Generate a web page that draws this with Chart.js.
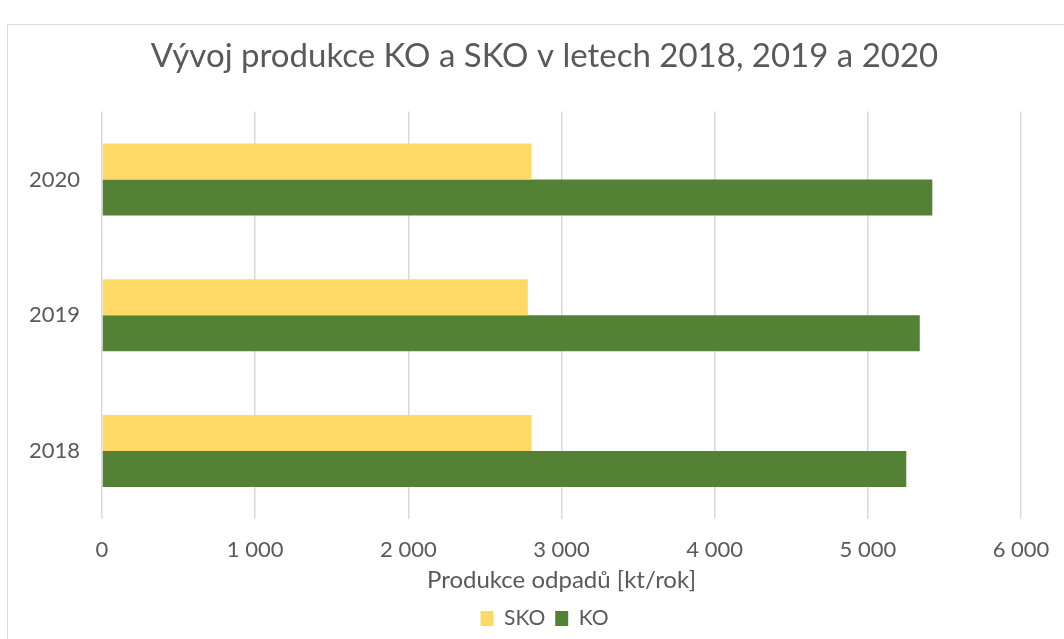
<!DOCTYPE html>
<html>
<head>
<meta charset="utf-8">
<script src="https://cdn.jsdelivr.net/npm/chart.js@4"></script>
<style>
  html, body { margin: 0; padding: 0; background: #fff; }
  #wrap { width: 1064px; height: 639px; }
</style>
</head>
<body>
<div id="wrap"><canvas id="barChart" width="1064" height="639"></canvas></div>
<script>
const years = ['2018', '2019', '2020'];
const skoValues = [2805, 2780, 2803];
const koValues = [5251, 5339, 5421];
const xTicks = [0, 1000, 2000, 3000, 4000, 5000, 6000];

const textColor = '#595959';
const fontFamily = 'Lato, "Open Sans", sans-serif';

// thin grey frame around the chart like the office export
const framePlugin = {
    id: 'frame',
    beforeDraw(chart) {
        const ctx = chart.ctx;
        ctx.save();
        ctx.fillStyle = '#fff';
        ctx.fillRect(0, 0, chart.width, chart.height);
        ctx.strokeStyle = '#d9d9d9';
        ctx.lineWidth = 1;
        ctx.strokeRect(7.5, 24.5, chart.width + 20, chart.height + 20);
        ctx.restore();
    },
    // title and legend sit a bit right of the plot centre in the original
    afterLayout(chart) {
        const shift = 30;
        if (chart.titleBlock) {
            chart.titleBlock.left += shift;
            chart.titleBlock.right += shift;
        }
        if (chart.legend) {
            chart.legend.left += shift;
            chart.legend.right += shift;
        }
    }
};

const ctx = document.getElementById('barChart').getContext('2d');
new Chart(ctx, {
    type: 'bar',
    data: {
        labels: years,
        datasets: [{
            label: 'SKO',
            data: skoValues,
            backgroundColor: '#FFD966',
            barPercentage: 1.0,
            categoryPercentage: 0.53
        }, {
            label: 'KO',
            data: koValues,
            backgroundColor: '#548235',
            barPercentage: 1.0,
            categoryPercentage: 0.53
        }]
    },
    options: {
        indexAxis: 'y',
        responsive: false,
        animation: false,
        layout: {
            padding: { left: 8, right: 43, top: 30, bottom: 0 }
        },
        plugins: {
            title: {
                display: true,
                text: 'Vývoj produkce KO a SKO v letech 2018, 2019 a 2020',
                color: textColor,
                font: { family: fontFamily, size: 33, weight: 'normal' },
                padding: { top: 7, bottom: 35 }
            },
            legend: {
                position: 'bottom',
                labels: {
                    color: textColor,
                    font: { family: fontFamily, size: 21 },
                    boxWidth: 13,
                    boxHeight: 15,
                    padding: 10
                }
            },
            tooltip: { enabled: false }
        },
        scales: {
            x: {
                min: 0,
                max: 6000,
                afterBuildTicks(scale) {
                    scale.ticks = xTicks.map(v => ({ value: v }));
                },
                afterFit(scale) {
                    scale.height = 79;
                    scale.paddingRight = 0;
                },
                grid: { color: '#d9d9d9', lineWidth: 1.5, drawTicks: false },
                border: { display: false },
                ticks: {
                    color: textColor,
                    font: { family: fontFamily, size: 22 },
                    padding: 18,
                    maxRotation: 0,
                    callback: v => v.toLocaleString('cs-CZ').replace(/\s/g, ' ')
                },
                title: {
                    display: true,
                    text: 'Produkce odpadů [kt/rok]',
                    color: textColor,
                    font: { family: fontFamily, size: 24 },
                    padding: { top: 2, bottom: 3 }
                }
            },
            y: {
                reverse: true,
                grid: { display: false, drawTicks: false },
                border: { display: false },
                ticks: {
                    color: textColor,
                    font: { family: fontFamily, size: 22 },
                    padding: 22
                },
                afterFit(scale) {
                    scale.width = 94;
                }
            }
        }
    },
    plugins: [framePlugin]
});
</script>
</body>
</html>
